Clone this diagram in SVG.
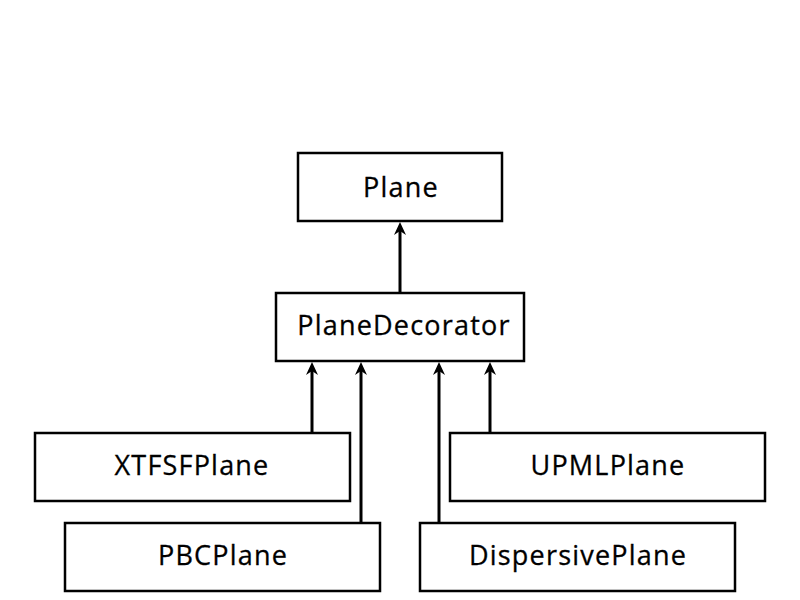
<svg xmlns="http://www.w3.org/2000/svg" width="800" height="600" viewBox="0 0 800 600">
<style>
.box{fill:#fff;stroke:#000;stroke-width:2.5}
.lbl{font-family:"Open Sans","Liberation Sans",sans-serif;font-size:27px;letter-spacing:1.2px;fill:#000;text-anchor:middle;stroke:#000;stroke-width:0.3}
.edge{stroke:#000;stroke-width:3;fill:none;marker-end:url(#arr)}
</style>
<defs>
<marker id="arr" markerUnits="userSpaceOnUse" markerWidth="15" markerHeight="14" viewBox="-14 -7 15 14" refX="-9" refY="0" orient="auto">
<path d="M0,0 L-13,-6 L-9,0 L-13,6 Z" fill="#000"/>
</marker>
</defs>
<rect width="800" height="600" fill="#fff"/>
<g id="connectors">
<line class="edge" x1="400" y1="293" x2="400" y2="231"/>
<line class="edge" x1="312" y1="433" x2="312" y2="371"/>
<line class="edge" x1="361" y1="523" x2="361" y2="371"/>
<line class="edge" x1="439" y1="523" x2="439" y2="371"/>
<line class="edge" x1="490" y1="433" x2="490" y2="371"/>
</g>
<g id="plane">
<rect class="box" x="298" y="153" width="204" height="68"/>
<text class="lbl" x="401" y="197">Plane</text>
</g>
<g id="planedecorator">
<rect class="box" x="276" y="293" width="248" height="68"/>
<text class="lbl" x="404" y="335">PlaneDecorator</text>
</g>
<g id="xtfsfplane">
<rect class="box" x="35" y="433" width="315" height="68"/>
<text class="lbl" x="192" y="475">XTFSFPlane</text>
</g>
<g id="upmlplane">
<rect class="box" x="450" y="433" width="315" height="68"/>
<text class="lbl" x="608" y="475">UPMLPlane</text>
</g>
<g id="pbcplane">
<rect class="box" x="65" y="523" width="315" height="68"/>
<text class="lbl" x="223" y="565">PBCPlane</text>
</g>
<g id="dispersiveplane">
<rect class="box" x="420" y="523" width="315" height="68"/>
<text class="lbl" x="578" y="565">DispersivePlane</text>
</g>
</svg>
